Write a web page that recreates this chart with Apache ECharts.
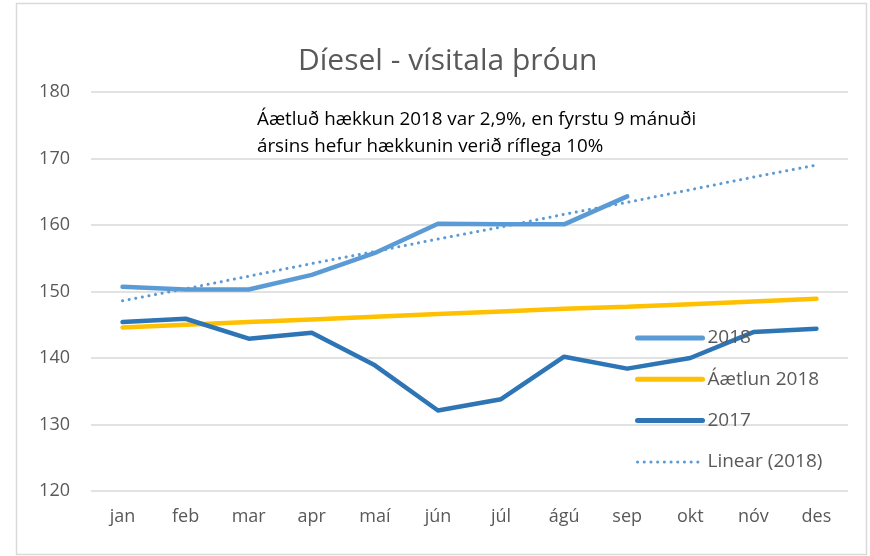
<!DOCTYPE html>
<html>
<head>
<meta charset="utf-8">
<script src="https://cdn.jsdelivr.net/npm/echarts@6/dist/echarts.min.js"></script>
<style>
    html, body { margin: 0; padding: 0; background: #fff; }
    #chart { width: 870px; height: 556px; }
</style>
</head>
<body>
<div id="chart"></div>
<script>
    // mánuðir
    var months = ['jan', 'feb', 'mar', 'apr', 'maí', 'jún', 'júl', 'ágú', 'sep', 'okt', 'nóv', 'des'];
    var values2018 = [150.7, 150.3, 150.3, 152.5, 155.8, 160.2, 160.1, 160.1, 164.3];
    var plan2018 = [144.6, 145.0, 145.4, 145.8, 146.2, 146.6, 147.0, 147.4, 147.7, 148.1, 148.5, 148.9];
    var values2017 = [145.4, 145.9, 142.9, 143.8, 138.9, 132.1, 133.8, 140.2, 138.4, 140.0, 143.9, 144.4];
    var linear2018 = [148.6, 150.4, 152.3, 154.2, 156.0, 157.9, 159.7, 161.6, 163.4, 165.3, 167.2, 169.0];
    var yTicks = [120, 130, 140, 150, 160, 170, 180];

    var font = '"Open Sans", "Noto Sans", sans-serif';
    var grey = '#595959';

    var myChart = echarts.init(document.getElementById('chart'));
    var option = {
        backgroundColor: '#fff',
        animation: false,
        title: {
            text: 'Díesel - vísitala þróun',
            left: 293,
            top: 41,
            textStyle: {
                fontFamily: font,
                fontSize: 30,
                fontWeight: 'normal',
                color: grey
            }
        },
        graphic: [
            {
                type: 'rect',
                shape: {x: 16.5, y: 3.5, width: 850, height: 551},
                style: {fill: null, stroke: '#d9d9d9', lineWidth: 1.5},
                silent: true
            },
            {
                type: 'text',
                left: 257,
                top: 106,
                style: {
                    text: 'Áætluð hækkun 2018 var 2,9%, en fyrstu 9 mánuði\nársins hefur hækkunin verið ríflega 10%',
                    font: '18.8px ' + font,
                    lineHeight: 27,
                    fill: '#000'
                }
            }
        ],
        legend: {
            orient: 'vertical',
            left: 630,
            top: 323,
            itemWidth: 65,
            itemHeight: 14,
            itemGap: 21.3,
            itemStyle: {opacity: 0},
            data: [
                {name: '2018', lineStyle: {width: 5}},
                {name: 'Áætlun 2018', lineStyle: {width: 5}},
                {name: '2017', lineStyle: {width: 5}},
                {name: 'Linear (2018)', lineStyle: {width: 3, type: [0.1, 6.6], cap: 'round'}}
            ],
            textStyle: {
                fontFamily: font,
                fontSize: 19,
                lineHeight: 20,
                color: grey
            }
        },
        grid: {
            left: 91,
            right: 22,
            top: 92,
            bottom: 65
        },
        xAxis: {
            type: 'category',
            data: months,
            boundaryGap: true,
            axisLine: {show: false},
            axisTick: {show: false},
            axisLabel: {
                margin: 17,
                fontFamily: font,
                fontSize: 18,
                color: grey
            }
        },
        yAxis: {
            type: 'value',
            min: yTicks[0],
            max: yTicks[yTicks.length - 1],
            interval: 10,
            axisLine: {show: false},
            axisTick: {show: false},
            axisLabel: {
                margin: 21,
                fontFamily: font,
                fontSize: 18,
                color: grey
            },
            splitLine: {
                lineStyle: {color: '#d9d9d9', width: 1.5}
            }
        },
        series: [
            {
                name: '2018',
                type: 'line',
                data: values2018,
                symbol: 'none',
                lineStyle: {color: '#5b9bd5', width: 4.5, cap: 'round', join: 'round'},
                itemStyle: {color: '#5b9bd5'}
            },
            {
                name: 'Áætlun 2018',
                type: 'line',
                data: plan2018,
                symbol: 'none',
                lineStyle: {color: '#ffc000', width: 4.5, cap: 'round'},
                itemStyle: {color: '#ffc000'}
            },
            {
                name: '2017',
                type: 'line',
                data: values2017,
                symbol: 'none',
                lineStyle: {color: '#2e75b6', width: 4.5, cap: 'round', join: 'round'},
                itemStyle: {color: '#2e75b6'}
            },
            {
                name: 'Linear (2018)',
                type: 'line',
                data: linear2018,
                symbol: 'none',
                lineStyle: {color: '#5b9bd5', width: 3, type: [0.1, 6.6], cap: 'round'},
                itemStyle: {color: '#5b9bd5'}
            }
        ]
    };

    myChart.setOption(option);
</script>
</body>
</html>
